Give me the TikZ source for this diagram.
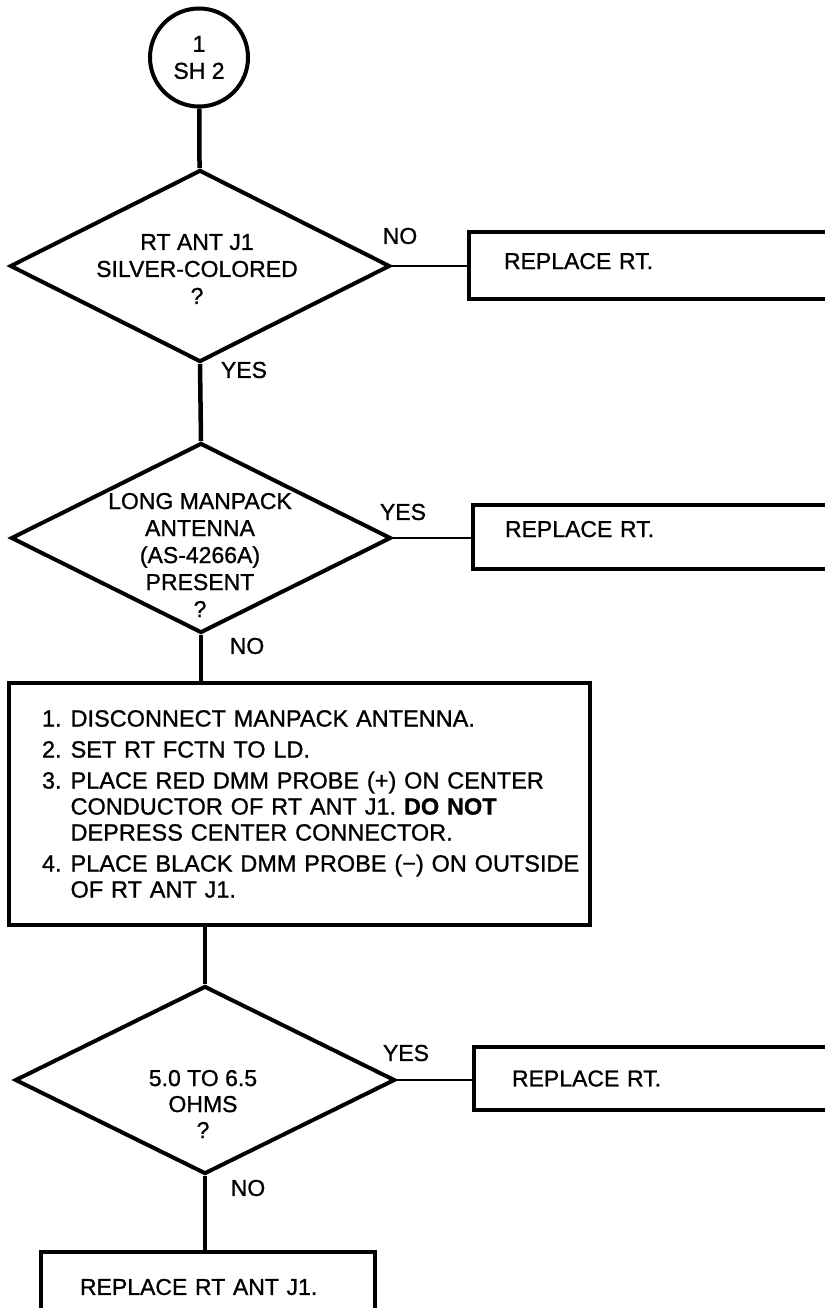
\documentclass[tikz,border=0pt]{standalone}
\usepackage{fontspec}
\setmainfont{Liberation Sans}[FakeBold=1]
\usetikzlibrary{shapes.geometric}
\newcommand{\bxitem}[1]{\hspace*{33pt}\makebox[28.6pt][l]{#1}}
\newcommand{\bxcont}{\hspace*{61.6pt}}
\frenchspacing
\begin{document}
\begin{tikzpicture}[x=1pt,y=-1pt,
  txt/.style={font=\fontsize{23}{27}\selectfont, inner sep=0pt, align=center},
  decision/.style={diamond, draw, line width=4pt, inner sep=0pt, minimum width=380pt, minimum height=192pt},
  connector/.style={circle, draw, line width=4pt, inner sep=0pt, minimum size=98pt, align=center, font=\fontsize{23}{27}\selectfont},
  actbox/.style={rectangle, draw, line width=4pt, inner ysep=0pt, anchor=north west, align=left, font=\fontsize{23}{27}\selectfont},
  vline/.style={line width=4.5pt},
  hline/.style={line width=2.5pt},
  lbl/.style={font=\fontsize{23}{27}\selectfont, inner sep=0pt}
]
\useasboundingbox (0,0) rectangle (824,1308);
\fill[white] (0,0) rectangle (824,1308);

% start connector
\node[connector] (c1) at (199,57.5) {1\\SH 2};

% decisions
\node[decision] (d1) at (200,266) {};
\node[txt] (t1) at (197,269) {RT ANT J1\\SILVER-COLORED\\?};

\node[decision, minimum height=190pt] (d2) at (201,538) {};
\node[txt] (t2) at (200,555) {LONG MANPACK\\ANTENNA\\(AS-4266A)\\PRESENT\\?};

\node[decision, minimum height=188pt] (d3) at (205,1080) {};
\node[txt, font=\fontsize{23}{26}\selectfont] (t3) at (203,1104) {5.0 TO 6.5\\OHMS\\?};

% action boxes
\node[actbox, minimum width=373pt, minimum height=67pt, inner xsep=35pt, text width=303pt, text depth=9pt] (b1) at (467,230) {REPLACE RT.};
\node[actbox, minimum width=369pt, minimum height=64pt, inner xsep=32pt, text width=305pt, text depth=16pt] (b2) at (471,503) {REPLACE RT.};
\node[actbox, minimum width=581pt, minimum height=242pt, inner xsep=0pt, text width=581pt, font=\fontsize{23.5}{26}\selectfont] (b3) at (7,681) {%
\bxitem{1.}DISCONNECT MANPACK ANTENNA.\\[5pt]
\bxitem{2.}SET RT FCTN TO LD.\\[5pt]
\bxitem{3.}PLACE RED DMM PROBE (+) ON CENTER\\
\bxcont CONDUCTOR OF RT ANT J1. \textbf{DO NOT}\\
\bxcont DEPRESS CENTER CONNECTOR.\\[5pt]
\bxitem{4.}PLACE BLACK DMM PROBE (−) ON OUTSIDE\\
\bxcont OF RT ANT J1.};
\node[actbox, minimum width=368pt, minimum height=63pt, inner xsep=38pt, text width=292pt] (b5) at (472,1045) {REPLACE RT.};
\node[actbox, minimum width=334pt, minimum height=70pt, inner xsep=39pt, text width=256pt] (b4) at (39,1250) {REPLACE RT ANT J1.};

% connectors
\draw[vline] (c1) -- (d1);
\draw[hline] (d1.east) -- (d1.east -| b1.west);
\draw[vline] (d1.south) -- (d2.north);
\draw[hline] (d2.east) -- (d2.east -| b2.west);
\draw[vline] (d2.south) -- (d2.south |- b3.north);
\draw[vline] (d3.north |- b3.south) -- (d3.north);
\draw[hline] (d3.east) -- (d3.east -| b5.west);
\draw[vline] (d3.south) -- (d3.south |- b4.north);

% branch labels
\node[lbl] (l1) at (400,236) {NO};
\node[lbl] (l2) at (244,370) {YES};
\node[lbl] (l3) at (403,512) {YES};
\node[lbl] (l4) at (247,646) {NO};
\node[lbl] (l5) at (406,1053) {YES};
\node[lbl] (l6) at (248,1188) {NO};
\end{tikzpicture}
\end{document}
